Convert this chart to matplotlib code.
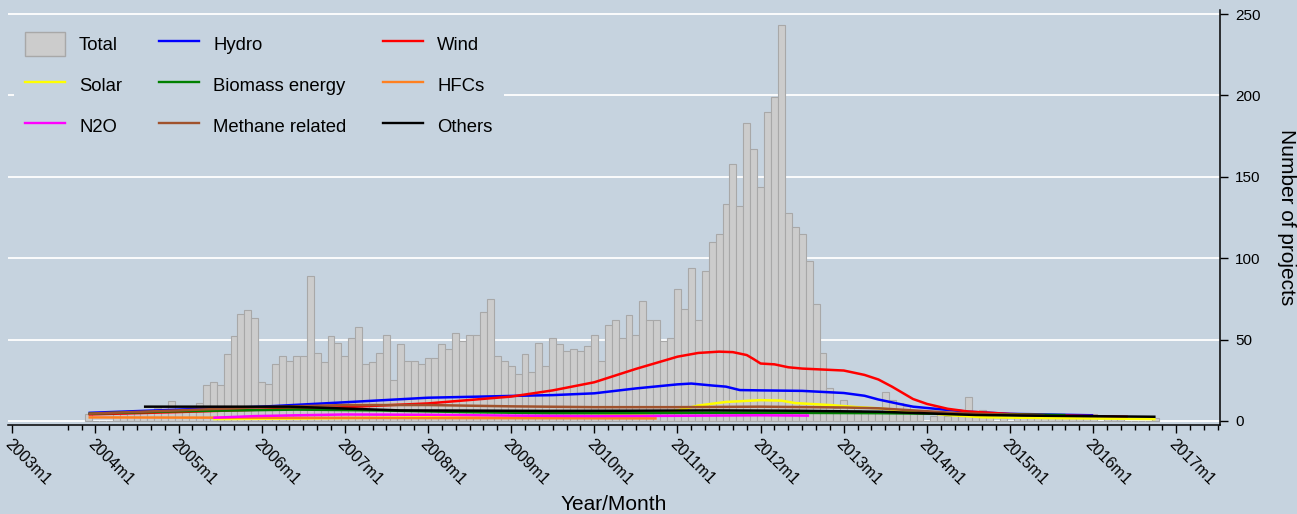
import matplotlib
matplotlib.use('Agg')
import matplotlib.pyplot as plt
import numpy as np
from matplotlib.patches import Patch
from matplotlib.lines import Line2D

plt.rcParams['font.family'] = ['Liberation Sans', 'DejaVu Sans']

BG = '#c6d3df'

# ---------------- data ----------------
total_start = '2003m12'
total = [4, 0, 0, 0, 5, 4, 5, 6, 5, 6, 8, 9, 12, 7, 6, 8, 11,
         22, 24, 22, 41, 52, 66, 68, 63,
         24, 23, 35, 40, 37, 40, 40, 89, 42, 36, 52, 48,
         40, 51, 58, 35, 36, 42, 53, 25, 47, 37, 37, 35,
         39, 39, 47, 44, 54, 49, 53, 53, 67, 75, 40, 37,
         34, 29, 41, 30, 48, 34, 51, 47, 43, 44, 43, 46,
         53, 37, 59, 62, 51, 65, 53, 74, 62, 62, 49, 51,
         81, 69, 94, 62, 92, 110, 115, 133, 158, 132, 183, 167,
         144, 190, 199, 243, 128, 119, 115, 98, 72, 42, 20, 8,
         13, 9, 7, 6, 5, 6, 18, 13, 11, 9, 7, 5,
         0, 3, 4, 3, 4, 3, 15, 4, 7, 3, 0, 2,
         0, 2, 3, 5, 3, 2, 3, 2, 3, 2, 3, 2,
         4, 0, 2, 2, 2, 0, 0, 0, 0, 2]

hydro_m = ['2003m12', '2005m1', '2006m1', '2007m1', '2008m1', '2009m1', '2009m7', '2010m1',
           '2010m7', '2011m1', '2011m3', '2011m6', '2011m8', '2011m10', '2012m1', '2012m7',
           '2013m1', '2013m4', '2013m6', '2013m9', '2013m11', '2014m4', '2014m7', '2015m1',
           '2016m1']
hydro_v = [5.0, 7.0, 8.8, 11.5, 14.3, 15.4, 15.9, 17.0, 20.0, 22.5, 23.0, 21.8, 21.1, 19.0,
           18.8, 18.5, 17.2, 15.5, 13.2, 10.5, 8.8, 6.8, 5.7, 4.4, 3.5]

wind_m = ['2003m12', '2005m1', '2006m1', '2007m1', '2008m1', '2009m1', '2009m7', '2010m1',
          '2010m7', '2011m1', '2011m4', '2011m7', '2011m9', '2011m11', '2011m12', '2012m1',
          '2012m3', '2012m5', '2012m7', '2013m1', '2013m4', '2013m6', '2013m8', '2013m9',
          '2013m11', '2014m1', '2014m4', '2014m7', '2015m1', '2015m7', '2016m1', '2016m6']
wind_v = [4.0, 5.5, 7.0, 8.5, 10.8, 15.0, 18.8, 23.8, 32.0, 39.5, 41.8, 42.6, 42.3, 40.5,
          38.0, 35.3, 34.8, 33.0, 32.2, 31.0, 28.3, 25.5, 21.0, 18.5, 13.5, 10.5, 7.5, 5.8,
          4.3, 3.5, 3.0, 2.6]

solar_m = ['2005m6', '2006m6', '2007m6', '2008m6', '2009m6', '2010m1', '2010m6', '2010m10',
           '2011m1', '2011m4', '2011m8', '2012m1', '2012m4', '2012m6', '2012m11', '2013m3',
           '2013m6', '2013m11', '2014m4', '2014m9', '2015m6', '2016m10']
solar_v = [1.2, 1.5, 2.0, 2.5, 3.0, 3.2, 3.8, 5.0, 6.5, 9.5, 11.7, 12.8, 12.5, 11.0, 9.8,
           8.5, 7.8, 5.7, 3.7, 2.3, 1.8, 1.2]

biomass_m = ['2003m12', '2005m1', '2006m6', '2007m6', '2008m6', '2009m6', '2010m6', '2011m6',
             '2012m6', '2013m6', '2014m6', '2015m9']
biomass_v = [4.5, 6.0, 7.0, 6.5, 5.5, 4.8, 4.8, 5.0, 5.0, 4.8, 4.3, 3.6]

hfcs_m = ['2003m12', '2006m1', '2008m1', '2010m10']
hfcs_v = [2.2, 2.0, 1.8, 1.6]

n2o_m = ['2005m6', '2005m12', '2006m6', '2007m1', '2008m1', '2009m1', '2010m1', '2011m1',
         '2012m1', '2012m8']
n2o_v = [2.0, 3.0, 3.5, 4.0, 3.8, 3.3, 3.0, 3.2, 3.5, 3.3]

methane_m = ['2003m12', '2005m1', '2006m1', '2007m1', '2008m1', '2009m1', '2010m1', '2011m1',
             '2012m1', '2013m1', '2013m6', '2014m1', '2014m6', '2015m6']
methane_v = [4.5, 6.5, 8.5, 9.8, 9.8, 9.0, 8.5, 8.5, 8.8, 8.3, 7.8, 6.0, 4.7, 3.2]

others_m = ['2004m8', '2005m6', '2006m5', '2007m9', '2008m6', '2009m6', '2010m6', '2011m6',
            '2012m6', '2013m6', '2014m8', '2015m6', '2016m10']
others_v = [8.8, 8.8, 8.8, 6.5, 6.4, 6.2, 6.3, 6.5, 6.3, 5.7, 3.7, 3.2, 2.6]

years = list(range(2003, 2018))

series = [
    ('Hydro', hydro_m, hydro_v, '#0000ff'),
    ('Wind', wind_m, wind_v, '#ff0000'),
    ('Solar', solar_m, solar_v, '#ffff00'),
    ('Biomass energy', biomass_m, biomass_v, '#008000'),
    ('HFCs', hfcs_m, hfcs_v, '#ff8020'),
    ('N2O', n2o_m, n2o_v, '#ff00ff'),
    ('Methane related', methane_m, methane_v, '#a0522d'),
    ('Others', others_m, others_v, '#000000'),
]


def mnum(s):
    y, m = s.split('m')
    return (int(y) - 2003) * 12 + int(m) - 1


# ---------------- figure ----------------
W, H = 1297, 514
fig = plt.figure(figsize=(W / 100, H / 100), dpi=100)
fig.patch.set_facecolor(BG)
ax = fig.add_axes([8 / W, 89 / H, 1212 / W, 415 / H])
ax.set_facecolor(BG)

xb = mnum(total_start) + np.arange(len(total))
ax.bar(xb, total, width=1.0, color='#cccccc', edgecolor='#a8a8a8', linewidth=0.8, zorder=2)

handles = {}
for name, ms, vs, col in series:
    ax.plot([mnum(m) for m in ms], vs, color=col, lw=1.8, zorder=3, solid_capstyle='butt')
    handles[name] = Line2D([], [], color=col, lw=1.7)
handles['Total'] = Patch(facecolor='#cccccc', edgecolor='#a8a8a8', lw=1)

ax.set_xlim(-0.62, 174.3)
ax.set_ylim(-2.46, 252.46)

for s in ['left', 'top']:
    ax.spines[s].set_visible(False)
for s in ['bottom', 'right']:
    ax.spines[s].set_color('black')
    ax.spines[s].set_linewidth(1.1)

ax.set_axisbelow(True)
ax.yaxis.grid(True, color='white', lw=1.3)
ax.xaxis.grid(False)

ax.yaxis.tick_right()
ax.yaxis.set_label_position('right')
ax.set_yticks(range(0, 251, 50))
ax.tick_params(axis='y', length=5.8, width=1, pad=5, labelsize=11, colors='black')
ax.set_ylabel('Number of projects', rotation=-90, va='bottom', fontsize=15, labelpad=12)

ax.set_xticks([mnum(f'{y}m1') for y in years])
ax.set_xticklabels([f'{y}m1' for y in years])
minor = [m for m in range(8, 175, 2) if m % 12 != 0]
ax.set_xticks(minor, minor=True)
ax.tick_params(axis='x', which='major', length=5.8, width=1, pad=2.5, labelsize=11.5)
ax.tick_params(axis='x', which='minor', length=3.6, width=1)
plt.setp(ax.get_xticklabels(), rotation=-45, ha='left', va='top', rotation_mode='anchor')
ax.set_xlabel('Year/Month', fontsize=15, labelpad=5)

order = ['Total', 'Solar', 'N2O', 'Hydro', 'Biomass energy', 'Methane related',
         'Wind', 'HFCs', 'Others']
fs = 13.3
px = fs * 100 / 72
leg = ax.legend([handles[k] for k in order], order, ncol=3, fontsize=fs,
                loc='upper left', bbox_to_anchor=((14 - 8) / 1212, 1 - (21 - 10) / 415),
                borderaxespad=0, handlelength=40 / px, handleheight=30 / px,
                handletextpad=14 / px, columnspacing=37 / px, labelspacing=0.92,
                borderpad=0.6, frameon=True, fancybox=False, framealpha=1,
                facecolor=BG, edgecolor='none')
leg.set_zorder(5)

fig.savefig('out.png', dpi=100, facecolor=BG)
